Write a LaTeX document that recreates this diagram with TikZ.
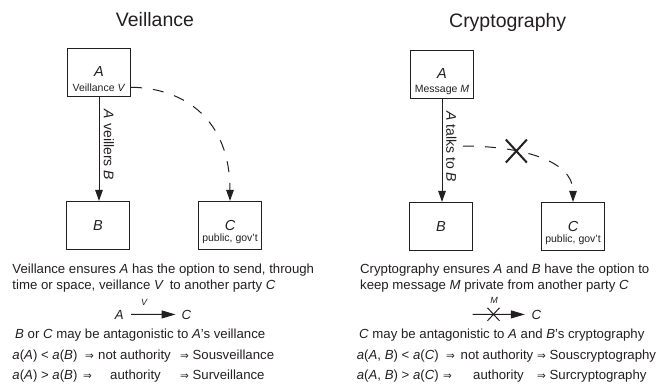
\documentclass[tikz,border=0pt]{standalone}
\usepackage{fontspec}
\setmainfont{Liberation Sans}
\newfontfamily\symfont{DejaVu Sans}
\usetikzlibrary{arrows.meta,shapes.misc}
\definecolor{ink}{RGB}{35,31,32}
\newcommand{\impl}{{\symfont\fontsize{10.5}{12}\selectfont ⇒}}
\begin{document}
\begin{tikzpicture}[x=1pt,y=-1pt,
  every node/.style={text=ink, inner sep=0pt},
  box/.style={draw=ink, line width=1.1pt, minimum width=63pt, minimum height=48pt},
  title/.style={font=\fontsize{19.5}{23}\selectfont, anchor=base},
  body/.style={font=\fontsize{13.2}{16}\selectfont, anchor=base west},
  sym/.style={font=\symfont\fontsize{10.5}{12}\selectfont, anchor=base west},
  formula/.style={font=\fontsize{13.2}{16}\selectfont\itshape, anchor=base},
  small/.style={font=\fontsize{10.5}{12}\selectfont, anchor=base},
  tiny/.style={font=\fontsize{9}{10}\selectfont\itshape},
  letter/.style={font=\fontsize{14.5}{17}\selectfont\itshape, anchor=base},
  arrlab/.style={font=\fontsize{14}{17}\selectfont, rotate=-90, anchor=center},
  arr/.style={draw=ink, line width=1pt, -{Triangle[length=11pt,width=7.5pt]}},
  farr/.style={draw=ink, line width=1pt, -{Triangle[length=14pt,width=8pt]}},
  darr/.style={arr, dash pattern=on 11pt off 11pt},
  bigx/.style={cross out, draw=ink, solid, line width=2pt, minimum width=19pt, minimum height=21pt},
  smallx/.style={cross out, draw=ink, solid, line width=1pt, minimum width=11pt, minimum height=12pt}]
\useasboundingbox (0,0) rectangle (662,386);

% ---------------- Veillance ----------------
\node[title] (t1) at (155,26.7) {Veillance};
\node[box] (A1) at (99,72.5) {};
\node[letter] (A1l) at (99,76) {A};
\node[small] (A1v) at (99,91) {Veillance \textit{V}};
\node[box] (B1) at (98,225.5) {};
\node[letter] (B1l) at (98,230) {B};
\node[box] (C1) at (230,225.5) {};
\node[letter] (C1l) at (230,230.5) {C};
\node[small] (C1p) at (230,241.5) {public, gov't};

\draw[arr] (A1.south) -- (A1.south |- B1.north);
\node[arrlab] (L1) at (109,145) {\textit{A} veillers \textit{B}};
\coordinate (d1) at (A1v -| A1.east);
\draw[darr] (d1) .. controls (185,88) and (230,120) .. (C1.north);

\node[body] (p1a) at (12.3,273) {Veillance ensures \textit{A} has the option to send, through};
\node[body] (p1b) at (12.3,289) {time or space, veillance \textit{V}\, to another party \textit{C}};
\node[formula] (fA1) at (119.4,319) {A};
\node[formula] (fC1) at (186.5,319) {C};
\draw[farr, shorten <=7pt, shorten >=6pt] (fA1.east) -- node[tiny, pos=0.35, anchor=south, yshift=8.5pt] (fV1) {V} (fC1.west);
\node[body] (q1) at (15,338) {\textit{B} or \textit{C} may be antagonistic to \textit{A}'s veillance};
\node[body] (r1a) at (12.3,359) {\textit{a}(\textit{A}) < \textit{a}(\textit{B})};
\node[sym] (r1i) at (85,359) {⇒};
\node[body] (r1b) at (98,359) {not authority};
\node[body] (r1c) at (180,359) {\impl\ Sousveillance};
\node[body] (s1a) at (12.3,379) {\textit{a}(\textit{A}) > \textit{a}(\textit{B})};
\node[sym] (s1i) at (83,379) {⇒};
\node[body] (s1b) at (110,379) {authority};
\node[body] (s1c) at (180,379) {\impl\ Surveillance};

% ---------------- Cryptography ----------------
\node[title] (t2) at (507.7,27) {Cryptography};
\node[box] (A2) at (442,74.5) {};
\node[letter] (A2l) at (442,78) {A};
\node[small] (A2m) at (442,92) {Message \textit{M}};
\node[box] (B2) at (441,226.5) {};
\node[letter] (B2l) at (441,231) {B};
\node[box] (C2) at (573,226.5) {};
\node[letter] (C2l) at (573,231) {C};
\node[small] (C2p) at (573,242) {public, gov't};

\draw[arr] (A2.south) -- (A2.south |- B2.north);
\node[arrlab] (L2) at (451.5,146.7) {\textit{A} talks to \textit{B}};
\coordinate (d2) at (463,146);
\draw[darr] (d2) .. controls (520,146) and (573,160) .. node[bigx, pos=0.33] (X2) {} (C2.north);

\node[body] (p2a) at (360,273) {Cryptography ensures \textit{A} and \textit{B} have the option to};
\node[body] (p2b) at (360,289) {keep message \textit{M} private from another party \textit{C}};
\coordinate (fs2) at (472.7,314.3);
\node[formula] (fC2) at (536.5,319) {C};
\draw[farr, shorten >=6.7pt] (fs2) -- (fC2.west);
\node[smallx] (fX2) at (493.5,314.3) {};
\node[tiny, anchor=base] (fM2) at (494,303.5) {M};
\node[body] (q2) at (359,338) {\textit{C} may be antagonistic to \textit{A} and \textit{B}'s cryptography};
\node[body] (r2a) at (356.7,359) {\textit{a}(\textit{A}, \textit{B}) < \textit{a}(\textit{C})};
\node[sym] (r2i) at (446,359) {⇒};
\node[body] (r2b) at (460.5,359) {not authority};
\node[body] (r2c) at (537,359) {\impl\ Souscryptography};
\node[body] (s2a) at (356.7,379) {\textit{a}(\textit{A}, \textit{B}) > \textit{a}(\textit{C})};
\node[sym] (s2i) at (443,379) {⇒};
\node[body] (s2b) at (473,379) {authority};
\node[body] (s2c) at (537,379) {\impl\ Surcryptography};
\end{tikzpicture}
\end{document}
